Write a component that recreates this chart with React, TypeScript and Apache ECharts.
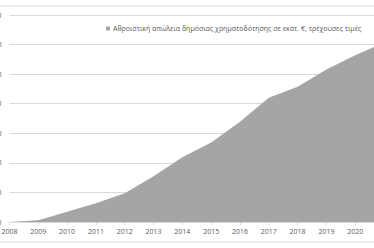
import React, { useEffect, useRef } from "react";
import * as echarts from "echarts";

const years = ["2008", "2009", "2010", "2011", "2012", "2013", "2014", "2015", "2016", "2017", "2018", "2019", "2020", "2021"];
const cumulativeLoss = [0, 60, 350, 630, 970, 1550, 2190, 2690, 3390, 4200, 4570, 5160, 5640, 6070];
const seriesName = "Αθροιστική απώλεια δημόσιας χρηματοδότησης σε εκατ. €, τρέχουσες τιμές";

export default function App() {
  const ref = useRef<HTMLDivElement>(null);
  useEffect(() => {
    if (!ref.current) return;
    const chart = echarts.init(ref.current, undefined, { renderer: "svg" });
    const font = "'Open Sans', sans-serif";
    chart.setOption({
      animation: false,
      backgroundColor: "#ffffff",
      textStyle: { fontFamily: font },
      graphic: [
        {
          type: "rect",
          shape: { x: -20, y: 6, width: 420, height: 236 },
          style: { fill: "none", stroke: "#d9d9d9", lineWidth: 1 },
          silent: true,
          z: -1,
        },
      ],
      legend: {
        show: true,
        left: 101,
        top: 20,
        icon: "rect",
        itemWidth: 4,
        itemHeight: 4,
        textStyle: { fontFamily: font, fontSize: 7, color: "#595959", padding: [0, 0, 0, -2] },
        data: [seriesName],
      },
      grid: { left: 9.5, right: -10, top: 15, bottom: 26, containLabel: false, outerBoundsMode: "none" },
      xAxis: {
        type: "category",
        data: years,
        boundaryGap: false,
        axisLine: { lineStyle: { color: "#d9d9d9" } },
        axisTick: { show: true, length: 3, lineStyle: { color: "#d9d9d9" } },
        axisLabel: { color: "#595959", fontSize: 7, margin: 6, fontFamily: font },
      },
      yAxis: {
        type: "value",
        min: 0,
        max: 7000,
        interval: 1000,
        axisLine: { show: false },
        axisTick: { show: false },
        axisLabel: { color: "#595959", fontSize: 7, margin: 8, fontFamily: font },
        splitLine: { lineStyle: { color: "#d9d9d9", width: 1 } },
      },
      series: [
        {
          name: seriesName,
          type: "line",
          data: cumulativeLoss,
          symbol: "none",
          lineStyle: { width: 0, color: "#a5a5a5" },
          itemStyle: { color: "#a5a5a5" },
          areaStyle: { color: "#a5a5a5", opacity: 1 },
        },
      ],
    });
    return () => chart.dispose();
  }, []);
  return <div ref={ref} style={{ position: "fixed", left: 0, top: 0, width: 374, height: 248 }} />;
}
